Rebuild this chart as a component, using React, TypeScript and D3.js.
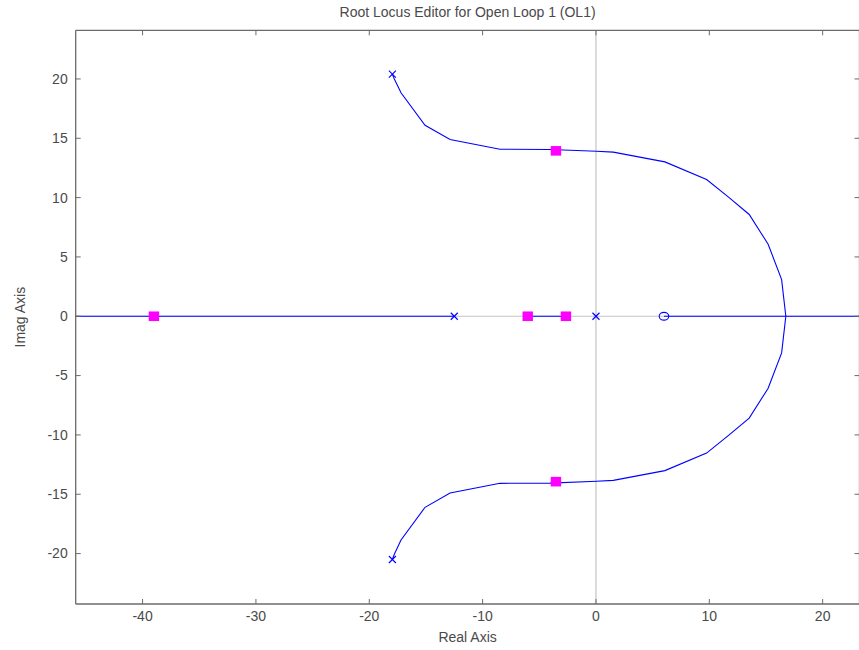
import React from "react";
import * as d3 from "d3";

const W = 859;
const H = 650;

const titleText = "Root Locus Editor for Open Loop 1 (OL1)";
const xLabel = "Real Axis";
const yLabel = "Imag Axis";

const xDomain = [-45.9, 23.25];
const yDomain = [-24.25, 24.1];
const xTicks = [-40, -30, -20, -10, 0, 10, 20];
const yTicks = [-20, -15, -10, -5, 0, 5, 10, 15, 20];

// Open-loop poles (x markers)
const polesRe = [-17.96, -17.96, -12.5, 0];
const polesIm = [20.4, -20.5, 0, 0];
// Open-loop zeros (o markers)
const zerosRe = [6];
const zerosIm = [0];
// Closed-loop poles (magenta squares)
const clRe = [-39, -6.02, -2.65, -3.53, -3.53];
const clIm = [0, 0, 0, 13.94, -13.94];

// Complex branches
const upperRe = [-17.96, -17.81, -17.2, -15.08, -12.87, -8.47, -4.06, 0.06, 1.53, 6.08, 9.76, 11.67, 13.52, 15.19, 16.38, 16.75];
const upperIm = [20.4, 20.04, 18.83, 16.1, 14.9, 14.08, 14.06, 13.91, 13.83, 13.01, 11.53, 10.06, 8.58, 6.07, 3.09, 0];
const lowerRe = [-17.96, -17.81, -17.2, -15.08, -12.87, -8.47, -4.06, 0.06, 1.53, 6.08, 9.76, 11.67, 13.52, 15.19, 16.38, 16.75];
const lowerIm = [-20.5, -20.1, -18.85, -16.1, -14.9, -14.08, -14.06, -13.91, -13.83, -13.01, -11.53, -10.06, -8.58, -6.07, -3.09, 0];
// Real-axis branch segments [start, end]
const realSegStart = [-46, -6.02, 6];
const realSegEnd = [-12.5, -2.65, 24];

export default function App() {
  const left = 75.7;
  const right = 859.5;
  const top = 30.3;
  const bottom = 604;

  const x = d3.scaleLinear().domain(xDomain).range([left, right]);
  const y = d3.scaleLinear().domain(yDomain).range([bottom, top]);

  const line = d3
    .line<[number, number]>()
    .x((d) => x(d[0]))
    .y((d) => y(d[1]))
    .curve(d3.curveLinear);

  const upper = upperRe.map((r, i) => [r, upperIm[i]] as [number, number]);
  const lower = lowerRe.map((r, i) => [r, lowerIm[i]] as [number, number]);

  const axisColor = "#6b6b6b";
  const textColor = "#4a4a4a";
  const blue = "#0000ff";
  const font = "'Liberation Sans', Arial, sans-serif";
  const tickLen = 5;
  const fs = 14;

  return (
    <svg
      width={W}
      height={H}
      style={{ position: "absolute", left: 0, top: 0, background: "#fff" }}
      fontFamily={font}
    >
      <rect x={0} y={0} width={W} height={H} fill="#fff" />
      <defs>
        <clipPath id="plotclip">
          <rect x={left} y={top} width={right - left} height={bottom - top} />
        </clipPath>
      </defs>

      {/* zero lines */}
      <line x1={x(0)} x2={x(0)} y1={top} y2={bottom} stroke="#c4c4c4" strokeWidth={1.2} />
      <line x1={left} x2={right} y1={y(0)} y2={y(0)} stroke="#c4c4c4" strokeWidth={1.2} />

      <g clipPath="url(#plotclip)">
        {realSegStart.map((s, i) => (
          <line
            key={"rs" + i}
            x1={x(s)}
            x2={x(realSegEnd[i])}
            y1={y(0)}
            y2={y(0)}
            stroke={blue}
            strokeWidth={1.1}
          />
        ))}
        <path d={line(upper) || ""} fill="none" stroke={blue} strokeWidth={1.1} />
        <path d={line(lower) || ""} fill="none" stroke={blue} strokeWidth={1.1} />

        {polesRe.map((r, i) => {
          const cx = x(r);
          const cy = y(polesIm[i]);
          const s = 3.5;
          return (
            <g key={"p" + i} stroke={blue} strokeWidth={1.1}>
              <line x1={cx - s} y1={cy - s} x2={cx + s} y2={cy + s} />
              <line x1={cx - s} y1={cy + s} x2={cx + s} y2={cy - s} />
            </g>
          );
        })}
        {zerosRe.map((r, i) => (
          <ellipse
            key={"z" + i}
            cx={x(r)}
            cy={y(zerosIm[i])}
            rx={4.8}
            ry={3.9}
            fill="none"
            stroke={blue}
            strokeWidth={1.1}
          />
        ))}
        {clRe.map((r, i) => (
          <rect
            key={"c" + i}
            x={x(r) - 5.2}
            y={y(clIm[i]) - 4.8}
            width={10.4}
            height={9.6}
            fill="#ff00ff"
          />
        ))}
      </g>

      {/* axes box */}
      <line x1={left} x2={left} y1={top} y2={bottom} stroke={axisColor} strokeWidth={1.3} />
      <line x1={left} x2={right} y1={bottom} y2={bottom} stroke={axisColor} strokeWidth={1.3} />
      <line x1={left} x2={right} y1={top} y2={top} stroke={axisColor} strokeWidth={1.3} />
      <line x1={right} x2={right} y1={top} y2={bottom} stroke={axisColor} strokeWidth={1.3} />

      {/* x ticks */}
      {xTicks.map((t) => (
        <g key={"xt" + t}>
          <line x1={x(t)} x2={x(t)} y1={bottom} y2={bottom - tickLen} stroke={axisColor} />
          <line x1={x(t)} x2={x(t)} y1={top} y2={top + tickLen} stroke={axisColor} />
          <text
            x={x(t)}
            y={bottom + 17}
            textAnchor="middle"
            fontSize={fs}
            fill={textColor}
          >
            {t}
          </text>
        </g>
      ))}

      {/* y ticks */}
      {yTicks.map((t) => (
        <g key={"yt" + t}>
          <line x1={left} x2={left + tickLen} y1={y(t)} y2={y(t)} stroke={axisColor} />
          <line x1={right} x2={right - tickLen} y1={y(t)} y2={y(t)} stroke={axisColor} />
          <text
            x={left - 8}
            y={y(t)}
            dy="0.35em"
            textAnchor="end"
            fontSize={fs}
            fill={textColor}
          >
            {t}
          </text>
        </g>
      ))}

      <text x={(left + right) / 2} y={17} textAnchor="middle" fontSize={fs} fill={textColor}>
        {titleText}
      </text>
      <text x={(left + right) / 2} y={642} textAnchor="middle" fontSize={fs} fill={textColor}>
        {xLabel}
      </text>
      <text
        transform={`translate(25,${(top + bottom) / 2}) rotate(-90)`}
        textAnchor="middle"
        fontSize={fs}
        fill={textColor}
      >
        {yLabel}
      </text>
    </svg>
  );
}
